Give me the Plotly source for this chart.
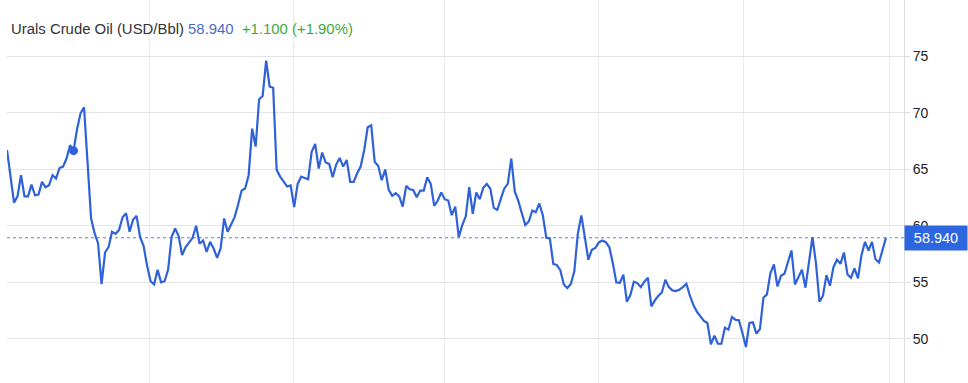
import plotly.graph_objects as go

# ---- data ----
prices = [
    66.7, 64.4, 62.05, 62.6, 64.47, 62.6, 62.6, 63.64, 62.7, 62.76,
    63.88, 63.4, 63.59, 64.47, 64.17, 65.1, 65.23, 65.94, 67.12, 66.64,
    68.53, 69.94, 70.47, 65.6, 60.68, 59.35, 58.47, 54.85, 57.64, 58.11,
    59.47, 59.29, 59.64, 60.76, 61.12, 59.47, 60.53, 60.88, 59.0, 58.23,
    56.47, 55.1, 54.82, 56.11, 55.0, 55.1, 56.11, 59.0, 59.76, 59.11,
    57.41, 58.12, 58.52, 58.94, 60.0, 58.41, 58.7, 57.7, 58.58, 57.99,
    57.17, 58.0, 60.65, 59.47, 60.12, 60.76, 61.88, 63.11, 63.29, 64.47,
    68.58, 67.0, 71.18, 71.47, 74.59, 72.3, 72.2, 64.94, 64.35, 63.85,
    63.47, 63.56, 61.65, 63.7, 64.35, 64.23, 64.12, 66.53, 67.23, 65.06,
    66.47, 65.59, 65.47, 64.29, 65.41, 66.0, 65.23, 65.82, 63.88, 63.88,
    64.65, 65.23, 66.7, 68.71, 68.88, 65.64, 65.3, 64.03, 64.97, 63.17,
    62.64, 62.88, 62.59, 61.7, 63.53, 63.23, 63.17, 62.53, 63.11, 63.11,
    64.29, 63.7, 61.76, 62.23, 62.94, 62.35, 62.23, 60.94, 61.7, 59.0,
    60.06, 60.82, 63.41, 61.06, 62.94, 62.35, 63.35, 63.7, 63.29, 61.58,
    61.41, 62.35, 63.3, 63.7, 65.94, 63.03, 62.2, 61.12, 60.06, 60.38,
    61.35, 61.2, 61.97, 60.94, 58.94, 58.88, 56.64, 56.53, 56.08, 54.82,
    54.5, 54.85, 55.97, 59.3, 60.92, 59.0, 57.0, 57.88, 58.04, 58.53,
    58.7, 58.55, 58.1, 56.7, 55.0, 54.97, 55.68, 53.3, 53.88, 55.06,
    54.94, 54.58, 55.06, 55.41, 52.88, 53.41, 53.82, 54.11, 55.23, 54.58,
    54.29, 54.23, 54.35, 54.58, 54.88, 53.82, 53.0, 52.41, 52.0, 51.59,
    51.41, 49.53, 50.29, 49.58, 49.58, 51.0, 50.82, 51.94, 51.7, 51.65,
    50.53, 49.29, 51.41, 51.47, 50.47, 50.88, 53.64, 53.94, 55.82, 56.58,
    54.64, 55.58, 55.76, 56.82, 57.82, 54.82, 55.41, 56.11, 54.53, 57.0,
    59.0, 56.7, 53.29, 53.82, 55.64, 54.7, 56.35, 57.0, 56.64, 57.64,
    55.7, 55.41, 56.23, 55.35, 57.41, 58.58, 57.82, 58.58, 57.05, 56.76,
    57.84, 58.94,
]
days = list(range(len(prices)))
marker_day = [19]
marker_price = [66.64]
y_ticks = [50, 55, 60, 65, 70, 75]
grid_ticks = [40.8, 81.7, 124.8, 169.0, 210.2, 252.0]
last_value = 58.940
change_text = "+1.100 (+1.90%)"
title_text = "Urals Crude Oil (USD/Bbl)"

LINE = "#2f62d8"
FONT = "Liberation Sans, Arial, sans-serif"

fig = go.Figure()
fig.add_trace(go.Scatter(
    x=days, y=prices, mode="lines",
    line=dict(color=LINE, width=2.2), hoverinfo="skip", showlegend=False,
))
fig.add_trace(go.Scatter(
    x=marker_day, y=marker_price, mode="markers",
    marker=dict(color=LINE, size=9), hoverinfo="skip", showlegend=False,
))

fig.add_shape(type="line", xref="paper", yref="y", x0=0, x1=1,
              y0=last_value, y1=last_value,
              line=dict(color="#5f7fc4", width=1, dash="dot"), layer="below")

fig.add_annotation(
    xref="paper", yref="paper", x=0.0025, y=1 - 29 / 383,
    xanchor="left", yanchor="middle", showarrow=False,
    text=(f"<span style='color:#333333'>{title_text}</span> "
          f"<span style='color:#4a6cc8'>{last_value:.3f}</span>&nbsp;&nbsp;"
          f"<span style='color:#3fa93f'>{change_text}</span>"),
    font=dict(family=FONT, size=14.9),
)

fig.add_annotation(
    xref="paper", yref="y", x=1, y=last_value,
    xanchor="left", yanchor="middle", showarrow=False,
    text=f"{last_value:.3f}", bgcolor="#2d67e0", borderpad=4,
    width=54, align="center",
    font=dict(family=FONT, size=14.5, color="white"),
)

fig.update_layout(
    width=968, height=383,
    margin=dict(l=7, r=64, t=0, b=0),
    paper_bgcolor="white", plot_bgcolor="white",
    xaxis=dict(range=[0, 256.14], tickvals=grid_ticks, showticklabels=False,
               ticks="", showgrid=True, gridcolor="#ececec", gridwidth=1,
               zeroline=False, showline=False, fixedrange=True),
    yaxis=dict(range=[46.11, 79.95], side="right", tickvals=y_ticks,
               ticks="outside", ticklen=5, tickcolor="#dddddd",
               showline=True, linecolor="#dddddd", linewidth=1,
               showgrid=True, gridcolor="#e4e4e4", gridwidth=1,
               zeroline=False,
               tickfont=dict(family=FONT, size=14, color="#222222")),
)

fig.write_html("out.html")
